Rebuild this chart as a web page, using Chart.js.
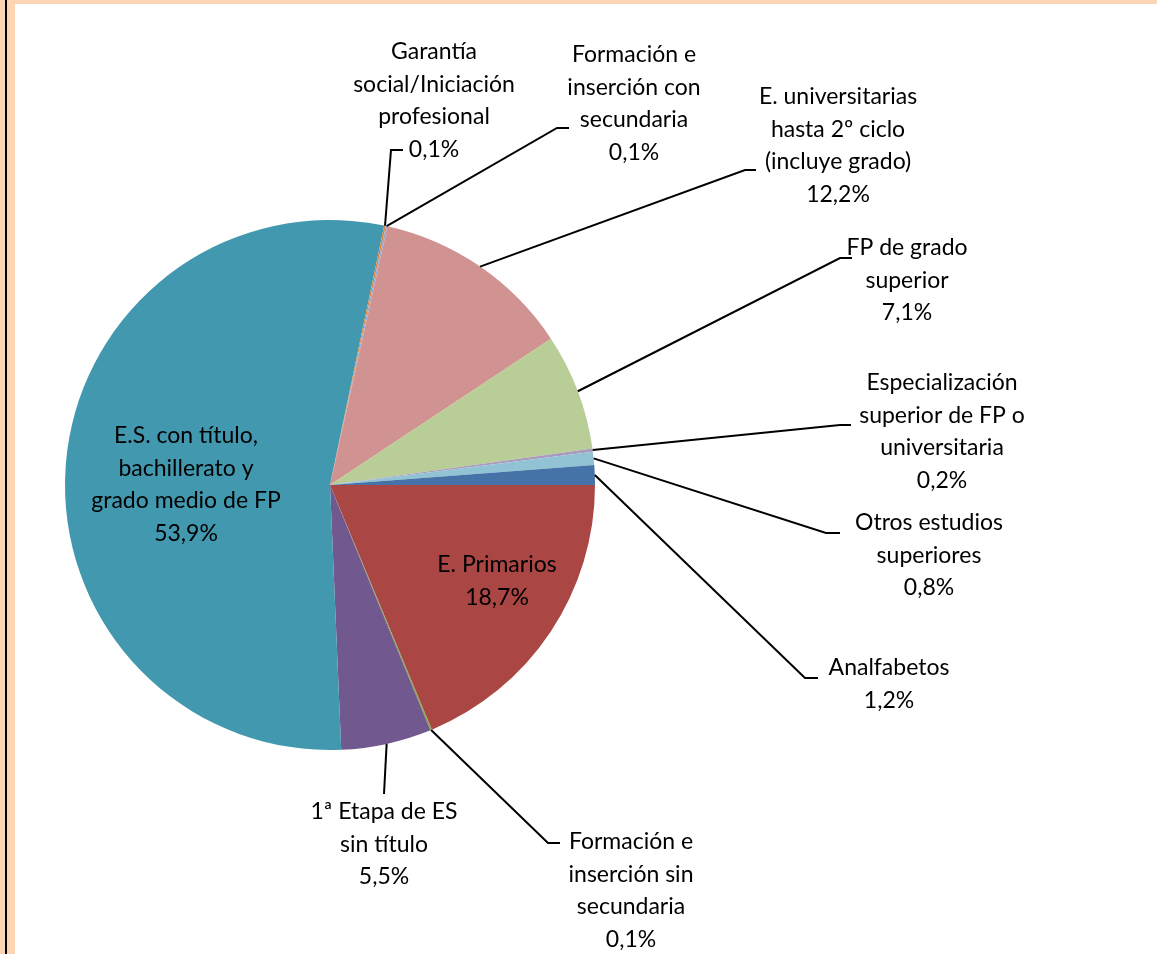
<!DOCTYPE html>
<html>
<head>
<meta charset="utf-8">
<script src="https://cdn.jsdelivr.net/npm/chart.js@4.4.0/dist/chart.umd.min.js"></script>
<style>
  html, body { margin: 0; padding: 0; background: #fff; }
  #wrap { position: relative; width: 1157px; height: 954px; }
</style>
</head>
<body>
<div id="wrap"><canvas id="chart" width="1157" height="954"></canvas></div>
<script>
// data, clockwise from 3 o'clock
var categories = ["E. Primarios", "Formación e inserción sin secundaria", "1ª Etapa de ES sin título",
  "E.S. con título, bachillerato y grado medio de FP", "Garantía social/Iniciación profesional",
  "Formación e inserción con secundaria", "E. universitarias hasta 2º ciclo (incluye grado)",
  "FP de grado superior", "Especialización superior de FP o universitaria",
  "Otros estudios superiores", "Analfabetos"];
var values = [18.7, 0.1, 5.5, 53.9, 0.1, 0.1, 12.2, 7.1, 0.2, 0.8, 1.2];
var labelLines = [["E. Primarios"], ["Formación e", "inserción sin", "secundaria"], ["1ª Etapa de ES", "sin título"],
  ["E.S. con título,", "bachillerato y", "grado medio de FP"], ["Garantía", "social/Iniciación", "profesional"],
  ["Formación e", "inserción con", "secundaria"], ["E. universitarias", "hasta 2º ciclo", "(incluye grado)"],
  ["FP de grado", "superior"], ["Especialización", "superior de FP o", "universitaria"],
  ["Otros estudios", "superiores"], ["Analfabetos"]];

var colors = ["#AA4643", "#89A54E", "#71588F", "#4198AF", "#DB843D", "#93A9CF",
  "#D19392", "#B9CD96", "#A99BBD", "#92C3D5", "#4572A7"];

// where each label sits (text centre x, first line y) and its leader elbow/end
var layout = [
  { cx: 497, y: 565 },
  { cx: 631, y: 842, elbow: [548, 843], end: [560, 843] },
  { cx: 384, y: 812, elbow: [384, 794], end: [384, 794] },
  { cx: 186, y: 436 },
  { cx: 434, y: 52, elbow: [391, 150], end: [403, 150] },
  { cx: 634, y: 55, elbow: [557, 128], end: [569, 128] },
  { cx: 838, y: 97, elbow: [745, 170], end: [756, 170] },
  { cx: 907, y: 248, elbow: [840, 258], end: [852, 258] },
  { cx: 942, y: 383, elbow: [840, 425], end: [851, 425] },
  { cx: 929, y: 523, elbow: [826, 533], end: [840, 533] },
  { cx: 889, y: 668, elbow: [805, 678], end: [818, 678] }
];

function pct(v) { return v.toFixed(1).replace(".", ",") + "%"; }

var framePlugin = {
  id: "frame",
  beforeDraw: function(chart) {
    var c = chart.ctx;
    c.save();
    c.fillStyle = "#fff";
    c.fillRect(0, 0, chart.width, chart.height);
    c.fillStyle = "#FCD5B4";
    c.fillRect(0, 0, chart.width, 4);
    c.fillRect(0, 0, 15, chart.height);
    c.fillStyle = "#000";
    c.fillRect(5, 0, 2, chart.height);
    c.restore();
  }
};

var labelPlugin = {
  id: "pieLabels",
  afterDraw: function(chart) {
    var c = chart.ctx;
    var arcs = chart.getDatasetMeta(0).data;
    c.save();
    c.font = "23px Lato";
    c.fillStyle = "#000";
    c.textAlign = "center";
    c.textBaseline = "middle";
    arcs.forEach(function(arc, i) {
      var L = layout[i];
      var lines = labelLines[i].concat([pct(values[i])]);
      lines.forEach(function(t, k) { c.fillText(t, L.cx, L.y + k * 32.5); });
      if (L.elbow) {
        var p = arc.getProps(["x", "y", "startAngle", "endAngle", "outerRadius"], true);
        var mid = (p.startAngle + p.endAngle) / 2;
        c.beginPath();
        c.moveTo(p.x + Math.cos(mid) * p.outerRadius, p.y + Math.sin(mid) * p.outerRadius);
        c.lineTo(L.elbow[0], L.elbow[1]);
        c.lineTo(L.end[0], L.end[1]);
        c.lineWidth = 2;
        c.strokeStyle = "#000";
        c.stroke();
      }
    });
    c.restore();
  }
};

new Chart(document.getElementById("chart"), {
  type: "pie",
  data: {
    labels: categories,
    datasets: [{ data: values, backgroundColor: colors, borderWidth: 0 }]
  },
  options: {
    responsive: false,
    animation: false,
    rotation: 90,
    layout: { padding: { left: 65, right: 562, top: 220, bottom: 204 } },
    plugins: { legend: { display: false }, tooltip: { enabled: false } }
  },
  plugins: [framePlugin, labelPlugin]
});
</script>
</body>
</html>
